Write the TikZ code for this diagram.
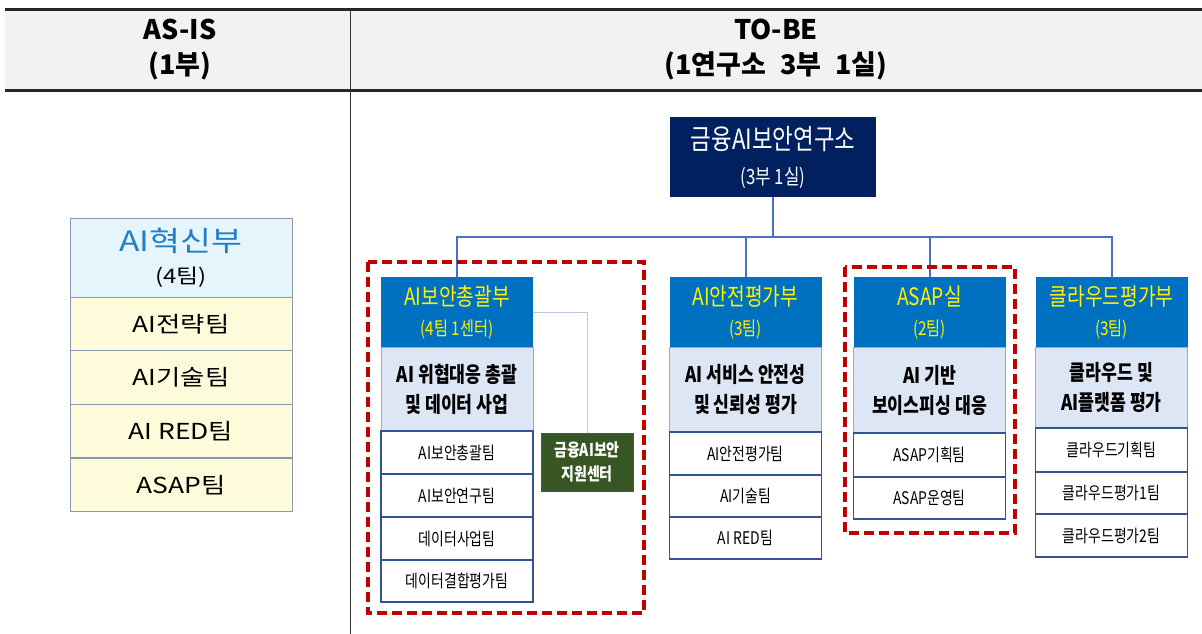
\documentclass[tikz,border=0pt]{standalone}
\usepackage{fontspec}
\setmainfont{Noto Sans CJK KR}[FakeStretch=0.8]
\newfontfamily\krplain{Noto Sans CJK KR}
\newfontfamily\krwide{Noto Sans CJK KR}[FakeStretch=1.2]
\definecolor{navy}{HTML}{002060}
\definecolor{deptblue}{HTML}{0070C0}
\definecolor{descfill}{HTML}{DCE6F4}
\definecolor{descline}{HTML}{8FAADC}
\definecolor{teamline}{HTML}{2F5597}
\definecolor{connblue}{HTML}{4472C4}
\definecolor{leftline}{HTML}{8A98B0}
\definecolor{lefthead}{HTML}{E6F4FB}
\definecolor{leftrow}{HTML}{FDFBD9}
\definecolor{leftblue}{HTML}{1F7FC8}
\definecolor{grn}{HTML}{375623}
\definecolor{redd}{HTML}{C00000}
\definecolor{hdrgray}{HTML}{F2F2F2}
\definecolor{thinconn}{HTML}{B4C7E7}
\tikzset{
  x=1pt,y=-1pt,
  box/.style={rectangle,inner sep=0pt,outer sep=0pt,align=center},
  hdr/.style={box,font=\krplain\fontsize{27}{35}\selectfont\bfseries},
  topbox/.style={box,fill=navy,text=white,minimum width=206pt,minimum height=80pt,font=\fontsize{28}{35}\selectfont},
  dhead/.style={box,fill=deptblue,text=yellow,minimum width=152pt,minimum height=70pt,font=\fontsize{24}{30}\selectfont},
  ddesc/.style={box,fill=descfill,draw=descline,line width=0.8pt,minimum width=152pt,font=\fontsize{21.5}{30}\selectfont\bfseries},
  team/.style={box,fill=white,draw=teamline,line width=1.2pt,minimum width=152pt,font=\fontsize{17.4}{20}\selectfont},
  lhead/.style={box,fill=lefthead,draw=leftline,line width=0.8pt,minimum width=222pt,minimum height=79pt,font=\krwide\fontsize{28}{32}\selectfont},
  lrow/.style={box,fill=leftrow,draw=leftline,line width=0.8pt,minimum width=222pt,minimum height=53.7pt,font=\krwide\fontsize{22}{26}\selectfont},
  greenbox/.style={box,fill=grn,draw=teamline,line width=1pt,text=white,minimum width=92pt,minimum height=58pt,font=\fontsize{17.5}{24}\selectfont\bfseries},
  conn/.style={draw=connblue,line width=2pt},
  thinc/.style={draw=thinconn,line width=1pt},
  reddash/.style={draw=redd,line width=3.5pt,dash pattern=on 10pt off 5pt}
}
\begin{document}
\begin{tikzpicture}
\useasboundingbox (0,0) rectangle (1202,634);
% header band
\fill[hdrgray] (5,10) rectangle (1202,90);
\draw[line width=3pt,draw=black!85] (5,10) -- (1202,10);
\draw[line width=3pt,draw=black!85] (5,90) -- (1202,90);
\draw[line width=1pt,draw=black!80] (350,10) -- (350,634);
\node[hdr] (asis) at (180,50) {AS-IS\\(1부)};
\node[hdr] (tobe) at (776,50) {TO-BE\\(1연구소\hspace{14pt}3부\hspace{14pt}1실)};

% AS-IS column
\node[lhead] (lh) at (181,257.5) {{\color{leftblue}AI혁신부}\\{\fontsize{20}{32}\selectfont (4팀)}};
\node[lrow] (l1) at (181,324) {AI전략팀};
\node[lrow] (l2) at (181,377.5) {AI기술팀};
\node[lrow] (l3) at (181,431) {AI RED팀};
\node[lrow] (l4) at (181,485) {ASAP팀};

% top node
\node[topbox] (top) at (773,157) {금융AI보안연구소\\{\fontsize{21}{35}\selectfont (3부 1실)}};

% dept 1
\node[dhead] (d1h) at (457,312) {AI보안총괄부\\{\fontsize{19}{30}\selectfont (4팀 1센터)}};
\node[ddesc,minimum height=84pt] (d1d) at (457,389) {AI 위협대응 총괄\\및 데이터 사업};
\node[team,minimum height=43pt] (d1t1) at (457,452.5) {AI보안총괄팀};
\node[team,minimum height=43pt] (d1t2) at (457,495.5) {AI보안연구팀};
\node[team,minimum height=43pt] (d1t3) at (457,538.5) {데이터사업팀};
\node[team,minimum height=42pt] (d1t4) at (457,581) {데이터결합평가팀};
\node[greenbox] (grnc) at (587,462) {금융AI보안\\지원센터};

% dept 2
\node[dhead] (d2h) at (745.5,312) {AI안전평가부\\{\fontsize{19}{30}\selectfont (3팀)}};
\node[ddesc,minimum height=85pt] (d2d) at (745.5,389.5) {AI 서비스 안전성\\및 신뢰성 평가};
\node[team,minimum height=43pt] (d2t1) at (745.5,453.5) {AI안전평가팀};
\node[team,minimum height=42pt] (d2t2) at (745.5,496) {AI기술팀};
\node[team,minimum height=42pt] (d2t3) at (745.5,538) {AI RED팀};

% dept 3
\node[dhead] (d3h) at (929.5,312) {ASAP실\\{\fontsize{19}{30}\selectfont (2팀)}};
\node[ddesc,minimum height=86pt] (d3d) at (929.5,390) {AI 기반\\보이스피싱 대응};
\node[team,minimum height=44pt] (d3t1) at (929.5,455) {ASAP기획팀};
\node[team,minimum height=42pt] (d3t2) at (929.5,498) {ASAP운영팀};

% dept 4
\node[dhead] (d4h) at (1111.5,312) {클라우드평가부\\{\fontsize{19}{30}\selectfont (3팀)}};
\node[ddesc,minimum height=81pt] (d4d) at (1111.5,387.5) {클라우드 및\\AI플랫폼 평가};
\node[team,minimum height=44pt] (d4t1) at (1111.5,450) {클라우드기획팀};
\node[team,minimum height=42pt] (d4t2) at (1111.5,493) {클라우드평가1팀};
\node[team,minimum height=43pt] (d4t3) at (1111.5,535.5) {클라우드평가2팀};

% connectors
\coordinate (jn) at (773,237);
\draw[conn] (top.south) -- (jn);
\draw[conn] (d1h.north) -- (d1h.north |- jn) -- (d4h.north |- jn) -- (d4h.north);
\draw[conn] (d2h.north) -- (d2h.north |- jn);
\draw[conn] (d3h.north) -- (d3h.north |- jn);
\draw[thinc] (d1h.east) -| (grnc.north);

% red dashed groups
\draw[reddash] (368,262) rectangle (644,613);
\draw[reddash] (845,267) rectangle (1015,533);
\end{tikzpicture}
\end{document}
